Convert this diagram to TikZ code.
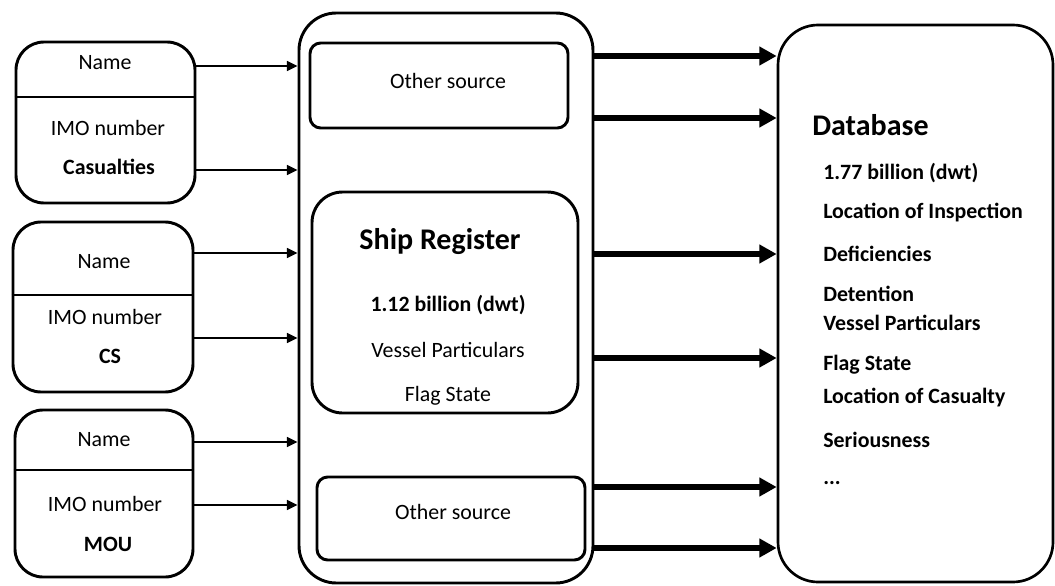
\documentclass[tikz,border=0pt]{standalone}
\usepackage{fontspec}
\setmainfont{Carlito}
\usetikzlibrary{arrows.meta,fit}

\begin{document}
\begin{tikzpicture}[x=0.75pt,y=-0.75pt,
  srcbox/.style={draw, line width=2.2pt, rounded corners=21pt, inner sep=0pt, fit={#1}},
  outerbox/.style={draw, line width=2.2pt, rounded corners=28pt, inner sep=0pt, fit={#1}},
  innerbox/.style={draw, line width=2.2pt, rounded corners=#1, inner sep=0pt},
  divider/.style={line width=1.1pt},
  txt/.style={font=\fontsize{16.4}{19}\selectfont, inner sep=0pt},
  btxt/.style={font=\fontsize{16.4}{19}\selectfont\bfseries, inner sep=0pt},
  head/.style={font=\fontsize{22.5}{26}\selectfont\bfseries, inner sep=0pt},
  item/.style={font=\fontsize{16.4}{19}\selectfont\bfseries, inner sep=0pt, anchor=west},
  feed/.style={line width=1.1pt, -{Triangle[length=8pt,width=7.5pt]}},
  flow/.style={line width=4.2pt, -{Triangle[length=13pt,width=13.5pt]}}
]
\useasboundingbox (0,0) rectangle (1055,585);

% ---- source records on the left ----
\node[srcbox={(16,42) (195,203)}] (cas) {};
\draw[divider] (cas.west |- 0,97) -- (cas.east |- 0,97);
\node[txt]  (casname) at (105,63)  {Name};
\node[txt]  (casimo)  at (108,128) {IMO number};
\node[btxt] (caslab)  at (109,167) {Casualties};

\node[srcbox={(13,222) (193,392)}] (cs) {};
\draw[divider] (cs.west |- 0,295) -- (cs.east |- 0,295);
\node[txt]  (csname) at (104,262) {Name};
\node[txt]  (csimo)  at (105,317) {IMO number};
\node[btxt] (cslab)  at (110,356) {CS};

\node[srcbox={(15,410) (193,577)}] (mou) {};
\draw[divider] (mou.west |- 0,470) -- (mou.east |- 0,470);
\node[txt]  (mouname) at (104,440) {Name};
\node[txt]  (mouimo)  at (105,504) {IMO number};
\node[btxt] (moulab)  at (108,544) {MOU};

% ---- central matching block ----
\node[outerbox={(299,13) (593,583)}] (mid) {};

\node[innerbox=8pt, fit={(310,43) (568,128)}] (oth1) {};
\node[txt] (oth1t) at (448,81) {Other source};

\node[innerbox=23pt, fit={(312,192) (578,413)}] (reg) {};
\node[head] (regt)  at (440,242) {Ship Register};
\node[btxt] (regdw) at (448,305) {1.12 billion (dwt)};
\node[txt]  (regvp) at (448,350) {Vessel Particulars};
\node[txt]  (regfs) at (448,396) {Flag State};

\node[innerbox=8pt, fit={(317,477) (585,560)}] (oth2) {};
\node[txt] (oth2t) at (453,512) {Other source};

% ---- resulting database ----
\node[draw, line width=2pt, rounded corners=30pt, inner sep=0pt, fit={(778,25) (1053,582)}] (db) {};
\node[head, anchor=west] (dbt) at (812,125) {Database};
\node[item] (d1)  at (823,173) {1.77 billion (dwt)};
\node[item] (d2)  at (823,213) {Location of Inspection};
\node[item] (d3)  at (823,254) {Deficiencies};
\node[item] (d4)  at (823,294) {Detention};
\node[item] (d5)  at (823,323) {Vessel Particulars};
\node[item] (d6)  at (823,365) {Flag State};
\node[item] (d7)  at (823,398) {Location of Casualty};
\node[item] (d8)  at (823,440) {Seriousness};
\node[item] (d9)  at (823,483) {...};

% ---- feeds into the matching block ----
\foreach \src/\yy in {cas/66, cas/170, cs/253, cs/338, mou/442, mou/505}
  \draw[feed] (\src.east |- 0,\yy) -- (mid.west |- 0,\yy);

% ---- flows into the database ----
\foreach \yy in {56,118,254,358,487,548}
  \draw[flow] (mid.east |- 0,\yy) -- (db.west |- 0,\yy);
\end{tikzpicture}
\end{document}
